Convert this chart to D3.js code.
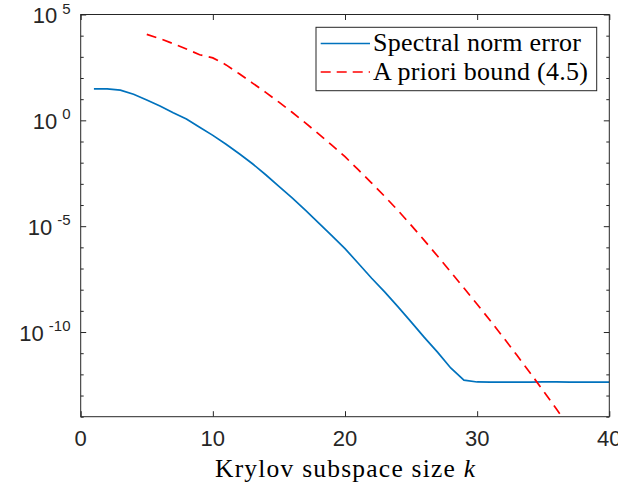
<!DOCTYPE html>
<html><head><meta charset="utf-8">
<script src="https://cdn.jsdelivr.net/npm/d3@7"></script>
<style>body{margin:0;background:#fff}svg{display:block}</style>
</head><body>
<svg id="c" width="618" height="487"></svg>
<script>
const kSpectral = d3.range(1, 41);
const spectralErr = [3.09e1,3.09e1,2.69e1,1.70e1,9.12,4.79,2.29,1.15,4.68e-1,1.95e-1,
  7.41e-2,2.63e-2,8.91e-3,2.69e-3,7.59e-4,2.19e-4,5.75e-5,1.45e-5,3.55e-6,8.71e-7,
  1.78e-7,3.55e-8,7.94e-9,1.58e-9,3.02e-10,5.62e-11,1.12e-11,2.00e-12,5.37e-13,4.37e-13,
  4.27e-13,4.27e-13,4.30e-13,4.32e-13,4.40e-13,4.37e-13,4.30e-13,4.27e-13,4.27e-13,4.27e-13];
const kBound = d3.range(5, 38);
const boundVals = [1.15e4,7.24e3,4.17e3,2.34e3,1.26e3,8.91e2,4.17e2,1.58e2,5.75e1,2.09e1,
  7.24,2.40,7.59e-1,2.29e-1,6.76e-2,1.91e-2,4.68e-3,1.12e-3,2.57e-4,5.62e-5,
  1.12e-5,2.14e-6,3.89e-7,6.92e-8,1.20e-8,2.04e-9,3.39e-10,5.37e-11,8.13e-12,1.20e-12,
  1.70e-13,2.29e-14,3.02e-15];
const xTicks = [0,10,20,30,40];
const yMajorExp = [5,0,-5,-10];
const yMinorExp = d3.range(-14, 6);
const legendLabels = ["Spectral norm error","A priori bound (4.5)"];
const xLabel = "Krylov subspace size ";
const xLabelVar = "k";

const L=80.7,R=609.3,T=14.5,B=416.7;
const axisCol="#262626";
const svg=d3.select("#c");
const x=d3.scaleLinear().domain([0,40]).range([L,R]);
const y=d3.scaleLog().domain([1e-14,1e5]).range([B,T]);

svg.append("defs").append("clipPath").attr("id","clip").append("rect")
  .attr("x",L).attr("y",T).attr("width",R-L).attr("height",B-T);

const line=d3.line().x(d=>x(d[0])).y(d=>y(d[1]));
const g=svg.append("g").attr("clip-path","url(#clip)");
g.append("path").datum(kSpectral.map((k,i)=>[k,spectralErr[i]]))
  .attr("d",line).attr("fill","none").attr("stroke","#0072BD").attr("stroke-width",1.7);
g.append("path").datum(kBound.map((k,i)=>[k,boundVals[i]]))
  .attr("d",line).attr("fill","none").attr("stroke","#FF0000").attr("stroke-width",1.7)
  .attr("stroke-dasharray","10,6.5");

function styleAxis(sel){sel.select(".domain").remove();sel.selectAll("line").attr("stroke",axisCol);sel.selectAll("text").remove();}
const minorVals=yMinorExp.filter(e=>!yMajorExp.includes(e)).map(e=>Math.pow(10,e));
const majorVals=yMajorExp.map(e=>Math.pow(10,e));
svg.append("g").attr("transform",`translate(${L},0)`).call(d3.axisRight(y).tickValues(minorVals).tickSize(3).tickFormat("")).call(styleAxis);
svg.append("g").attr("transform",`translate(${L},0)`).call(d3.axisRight(y).tickValues(majorVals).tickSize(5.5).tickFormat("")).call(styleAxis);
svg.append("g").attr("transform",`translate(${R},0)`).call(d3.axisLeft(y).tickValues(minorVals).tickSize(3).tickFormat("")).call(styleAxis);
svg.append("g").attr("transform",`translate(${R},0)`).call(d3.axisLeft(y).tickValues(majorVals).tickSize(5.5).tickFormat("")).call(styleAxis);
svg.append("g").attr("transform",`translate(0,${B})`).call(d3.axisTop(x).tickValues(xTicks).tickSize(5.5).tickFormat("")).call(styleAxis);
svg.append("g").attr("transform",`translate(0,${T})`).call(d3.axisBottom(x).tickValues(xTicks).tickSize(5.5).tickFormat("")).call(styleAxis);

svg.append("rect").attr("x",L).attr("y",T).attr("width",R-L).attr("height",B-T)
  .attr("fill","none").attr("stroke",axisCol).attr("stroke-width",1);

const sans="'Liberation Sans', Arial, Helvetica, sans-serif";
svg.append("g").selectAll("text").data(xTicks).join("text")
  .attr("x",d=>x(d)).attr("y",445.5).attr("text-anchor","middle")
  .attr("font-family",sans).attr("font-size",22).attr("fill",axisCol).text(d=>d);

yMajorExp.forEach(e=>{
  const yy=y(Math.pow(10,e));
  const t=svg.append("text").attr("x",70.5).attr("y",yy+8.5).attr("text-anchor","end")
    .attr("font-family",sans).attr("fill",axisCol);
  t.append("tspan").attr("font-size",22).text("10");
  t.append("tspan").attr("font-size",15).attr("dx",5).attr("dy",-9.5).text(String(e));
});

const serif="'Liberation Serif','Times New Roman',serif";
const xl=svg.append("text").attr("x",(L+R)/2).attr("y",476.5).attr("text-anchor","middle")
  .attr("font-family",serif).attr("font-size",25.5).attr("fill","#000")
  .attr("textLength",260).attr("lengthAdjust","spacing");
xl.append("tspan").text(xLabel);
xl.append("tspan").attr("font-style","italic").text(xLabelVar);

const lg=svg.append("g");
lg.append("rect").attr("x",316).attr("y",27.3).attr("width",280.7).attr("height",63.4)
  .attr("fill","#fff").attr("stroke",axisCol).attr("stroke-width",1);
const rows=[{c:"#0072BD",dash:null,ly:43.5,ty:51,w:208},{c:"#FF0000",dash:"10,6",ly:72,ty:80,w:215}];
rows.forEach((r,i)=>{
  const ln=lg.append("line").attr("x1",320.7).attr("x2",370).attr("y1",r.ly).attr("y2",r.ly)
    .attr("stroke",r.c).attr("stroke-width",1.7);
  if(r.dash) ln.attr("stroke-dasharray",r.dash);
  lg.append("text").attr("x",373).attr("y",r.ty).attr("font-family",serif).attr("font-size",26)
    .attr("textLength",r.w).attr("lengthAdjust","spacing")
    .attr("fill","#000").text(legendLabels[i]);
});
</script>
</body></html>
